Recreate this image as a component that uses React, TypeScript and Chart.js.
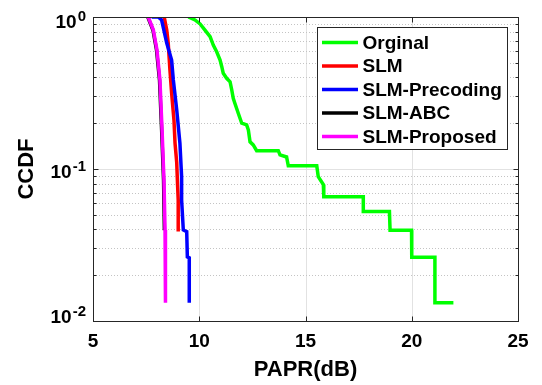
import React, { useEffect, useRef } from "react";
import { Chart, registerables } from "chart.js";

Chart.register(...registerables);

const seriesLabels = ["Orginal", "SLM", "SLM-Precoding", "SLM-ABC", "SLM-Proposed"];
const seriesColors = ["#00ff00", "#ff0000", "#0000ff", "#000000", "#ff00ff"];

const orginalX = [9.49, 9.8, 10.04, 10.27, 10.51, 10.66, 10.82, 10.98, 11.06, 11.13, 11.29, 11.45, 11.53, 11.6, 11.68, 11.84, 12.0, 12.23, 12.31, 12.39, 12.54, 12.7, 13.72, 13.8, 14.11, 14.19, 15.53, 15.6, 15.84, 15.86, 17.72, 17.72, 18.95, 18.98, 19.99, 20.0, 21.09, 21.09, 21.96];
const orginalY = [1.0, 0.956, 0.9, 0.82, 0.742, 0.654, 0.591, 0.521, 0.471, 0.426, 0.395, 0.375, 0.331, 0.292, 0.27, 0.232, 0.2, 0.195, 0.181, 0.151, 0.144, 0.132, 0.132, 0.124, 0.12, 0.105, 0.105, 0.089, 0.079, 0.0658, 0.0658, 0.0526, 0.0526, 0.0395, 0.0395, 0.0263, 0.0263, 0.0132, 0.0132];

const slmX = [8.35, 8.47, 8.54, 8.62, 8.7, 8.81, 8.86, 8.94, 8.98, 9.01, 9.01];
const slmY = [1.0, 0.821, 0.674, 0.448, 0.316, 0.21, 0.148, 0.11, 0.0785, 0.0625, 0.0388];

const precodingX = [7.76, 8.07, 8.23, 8.47, 8.7, 8.78, 8.94, 9.09, 9.17, 9.17, 9.25, 9.41, 9.44, 9.53, 9.53];
const precodingY = [1.0, 1.0, 0.955, 0.674, 0.521, 0.385, 0.245, 0.148, 0.089, 0.0625, 0.0397, 0.0387, 0.0264, 0.026, 0.0132];

const abcX = [7.58, 7.82, 7.99, 8.13, 8.23, 8.32, 8.36];
const abcY = [1.0, 0.821, 0.607, 0.385, 0.18, 0.0846, 0.0395];

const proposedX = [7.6, 7.84, 8.01, 8.15, 8.25, 8.34, 8.39, 8.41];
const proposedY = [1.0, 0.821, 0.607, 0.385, 0.18, 0.0846, 0.0397, 0.0132];

const xTicks = [5, 10, 15, 20, 25];
const yMajorTicks = [0.01, 0.1, 1];
const yTickBases = ["10", "10", "10"];
const yTickExps = ["-2", "-1", "0"];

const FONT = "'Liberation Sans', Arial, sans-serif";

const seriesX = [orginalX, slmX, precodingX, abcX, proposedX];
const seriesY = [orginalY, slmY, precodingY, abcY, proposedY];

const matlabPlugin = {
  id: "matlabAxes",
  beforeDatasetsDraw(chart: any) {
    const { ctx, chartArea: ca, scales } = chart;
    const xs = scales.x;
    const ys = scales.y;
    ctx.save();
    ctx.strokeStyle = "#e2e2e2";
    ctx.lineWidth = 1;
    ctx.setLineDash([]);
    xTicks.forEach((t) => {
      const px = Math.round(xs.getPixelForValue(t)) + 0.5;
      if (px <= ca.left + 1 || px >= ca.right - 1) return;
      ctx.beginPath();
      ctx.moveTo(px, ca.top);
      ctx.lineTo(px, ca.bottom);
      ctx.stroke();
    });
    ctx.strokeStyle = "#c4c4c4";
    ctx.setLineDash([1, 2]);
    for (let e = 0; e < yMajorTicks.length - 1; e++) {
      for (let k = 2; k <= 9; k++) {
        const v = yMajorTicks[e] * k;
        const py = Math.round(ys.getPixelForValue(v)) + 0.5;
        ctx.beginPath();
        ctx.moveTo(ca.left, py);
        ctx.lineTo(ca.right, py);
        ctx.stroke();
      }
    }
    ctx.setLineDash([]);
    ctx.strokeStyle = "#e2e2e2";
    yMajorTicks.forEach((v) => {
      const py = Math.round(ys.getPixelForValue(v)) + 0.5;
      if (py <= ca.top + 1 || py >= ca.bottom - 1) return;
      ctx.beginPath();
      ctx.moveTo(ca.left, py);
      ctx.lineTo(ca.right, py);
      ctx.stroke();
    });
    ctx.restore();
  },
  afterDatasetsDraw(chart: any) {
    const { ctx, chartArea: ca, scales } = chart;
    const xs = scales.x;
    const ys = scales.y;
    ctx.save();
    ctx.setLineDash([]);
    ctx.strokeStyle = "#262626";
    ctx.lineWidth = 1;
    const L = Math.round(ca.left) + 0.5;
    const R = Math.round(ca.right) + 0.5;
    const T = Math.round(ca.top) + 0.5;
    const B = Math.round(ca.bottom) + 0.5;
    ctx.strokeRect(L, T, R - L, B - T);
    xTicks.forEach((t) => {
      const px = Math.round(xs.getPixelForValue(t)) + 0.5;
      ctx.beginPath();
      ctx.moveTo(px, B);
      ctx.lineTo(px, B - 5);
      ctx.moveTo(px, T);
      ctx.lineTo(px, T + 5);
      ctx.stroke();
    });
    for (let e = 0; e < yMajorTicks.length; e++) {
      const majorPy = Math.round(ys.getPixelForValue(yMajorTicks[e])) + 0.5;
      ctx.beginPath();
      ctx.moveTo(L, majorPy);
      ctx.lineTo(L + 5, majorPy);
      ctx.moveTo(R, majorPy);
      ctx.lineTo(R - 5, majorPy);
      ctx.stroke();
      if (e < yMajorTicks.length - 1) {
        for (let k = 2; k <= 9; k++) {
          const py = Math.round(ys.getPixelForValue(yMajorTicks[e] * k)) + 0.5;
          ctx.beginPath();
          ctx.moveTo(L, py);
          ctx.lineTo(L + 3, py);
          ctx.moveTo(R, py);
          ctx.lineTo(R - 3, py);
          ctx.stroke();
        }
      }
    }
    ctx.fillStyle = "#000000";
    ctx.textBaseline = "middle";
    ctx.textAlign = "right";
    const labelRight = ca.left - 7;
    yMajorTicks.forEach((v, i) => {
      const py = ys.getPixelForValue(v);
      let baseCenter = py + 4;
      if (baseCenter + 7 > ca.bottom + 4) baseCenter = ca.bottom + 4 - 7;
      if (baseCenter - 11 < ca.top - 5) baseCenter = ca.top - 5 + 11;
      ctx.font = `bold 15px ${FONT}`;
      const supW = ctx.measureText(yTickExps[i]).width;
      ctx.fillText(yTickExps[i], labelRight, baseCenter - 6);
      ctx.font = `bold 19px ${FONT}`;
      ctx.fillText(yTickBases[i], labelRight - supW - 1, baseCenter);
    });
    ctx.restore();
  },
  afterDraw(chart: any) {
    const { ctx, chartArea: ca } = chart;
    ctx.save();
    const boxRight = ca.right - 11;
    const boxTop = ca.top + 10;
    const boxW = 190;
    const rowH = 23.5;
    const boxH = 122;
    const boxLeft = boxRight - boxW;
    ctx.fillStyle = "#ffffff";
    ctx.fillRect(boxLeft, boxTop, boxW, boxH);
    ctx.strokeStyle = "#262626";
    ctx.lineWidth = 1;
    ctx.strokeRect(Math.round(boxLeft) + 0.5, Math.round(boxTop) + 0.5, boxW, boxH);
    ctx.font = `bold 19px ${FONT}`;
    ctx.textBaseline = "middle";
    ctx.textAlign = "left";
    seriesLabels.forEach((lab, i) => {
      const cy = boxTop + 15.5 + i * rowH;
      ctx.strokeStyle = seriesColors[i];
      ctx.lineWidth = 3.5;
      ctx.beginPath();
      ctx.moveTo(boxLeft + 5, cy);
      ctx.lineTo(boxLeft + 41, cy);
      ctx.stroke();
      ctx.fillStyle = "#000000";
      ctx.fillText(lab, boxLeft + 45.5, cy + 1);
    });
    ctx.restore();
  },
};

export default function App() {
  const canvasRef = useRef<HTMLCanvasElement | null>(null);

  useEffect(() => {
    if (!canvasRef.current) return;
    const datasets = seriesLabels.map((lab, i) => ({
      label: lab,
      data: seriesX[i].map((x, j) => ({ x, y: seriesY[i][j] })),
      borderColor: seriesColors[i],
      backgroundColor: seriesColors[i],
      borderWidth: 3.5,
      pointRadius: 0,
      showLine: true,
      fill: false,
      tension: 0,
      order: seriesLabels.length - i,
    }));
    const chart = new Chart(canvasRef.current, {
      type: "scatter",
      data: { datasets },
      options: {
        animation: false,
        responsive: true,
        maintainAspectRatio: false,
        layout: { padding: { top: 17, right: 24, left: 0, bottom: 0 } },
        plugins: {
          legend: { display: false },
          tooltip: { enabled: false },
        },
        scales: {
          x: {
            type: "linear",
            min: 5,
            max: 25,
            afterBuildTicks: (scale: any) => {
              scale.ticks = xTicks.map((v) => ({ value: v }));
            },
            afterFit: (scale: any) => {
              scale.height = 64;
            },
            ticks: {
              color: "#000000",
              font: { family: FONT, size: 19, weight: "bold" },
              padding: 9,
              maxRotation: 0,
              autoSkip: false,
            },
            grid: { display: false, drawTicks: false },
            border: { display: false },
            title: {
              display: true,
              text: "PAPR(dB)",
              color: "#000000",
              font: { family: FONT, size: 22, weight: "bold" },
              padding: { top: 0, bottom: 2 },
            },
          },
          y: {
            type: "logarithmic",
            min: 0.01,
            max: 1,
            afterFit: (scale: any) => {
              scale.width = 93;
            },
            ticks: { display: false },
            grid: { display: false, drawTicks: false },
            border: { display: false },
            title: {
              display: true,
              text: "CCDF",
              color: "#000000",
              font: { family: FONT, size: 22, weight: "bold" },
              padding: { top: 14, bottom: 0 },
            },
          },
        },
      },
      plugins: [matlabPlugin],
    } as any);
    return () => chart.destroy();
  }, []);

  return (
    <div style={{ position: "fixed", left: 0, top: 0, width: 542, height: 385, background: "#ffffff" }}>
      <canvas ref={canvasRef} />
    </div>
  );
}
